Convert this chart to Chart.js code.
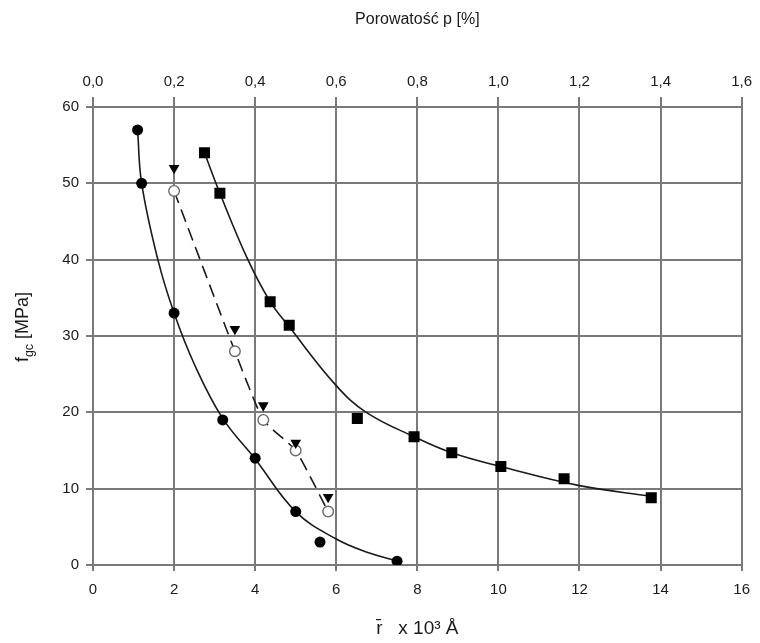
<!DOCTYPE html>
<html>
<head>
<meta charset="utf-8">
<script src="https://cdn.jsdelivr.net/npm/chart.js@4/dist/chart.umd.min.js"></script>
<style>
  html, body { margin: 0; padding: 0; background: #fff; }
  #wrap { width: 760px; height: 643px; }
</style>
</head>
<body>
<div id="wrap"><canvas id="chart"></canvas></div>
<script>
  // Measured points (x = r x 10^3 A, y = f_gc MPa)
  const circleX = [1.1, 1.2, 2.0, 3.2, 4.0, 5.0, 5.6, 7.5];
  const circleY = [57, 50, 33, 19, 14, 7, 3, 0.5];

  const squareX = [2.75, 3.13, 4.37, 4.84, 6.52, 7.92, 8.85, 10.06, 11.62, 13.77];
  const squareY = [54, 48.7, 34.5, 31.4, 19.2, 16.8, 14.7, 12.9, 11.3, 8.8];

  const triangleX = [2.0, 3.5, 4.2, 5.0, 5.8];
  const triangleY = [52, 30.9, 20.9, 16, 8.9];

  const openX = [2.0, 3.5, 4.2, 5.0, 5.8];
  const openY = [49, 28, 19, 15, 7];

  // Fitted curves
  const curveCircleX = [1.1, 1.2, 1.6, 2.0, 2.5, 3.2, 4.0, 5.0, 6.0, 6.8, 7.45];
  const curveCircleY = [57, 50, 40, 33, 26.3, 19.2, 13.9, 7.0, 3.4, 1.6, 0.6];

  const curveSquareX = [2.75, 3.13, 3.82, 4.37, 4.84, 6.0, 6.74, 7.92, 8.85, 10.06, 12.0, 13.77];
  const curveSquareY = [54, 48.7, 40, 34.5, 31.2, 23.5, 20.0, 16.8, 14.7, 12.9, 10.4, 9.0];

  // Axis tick labels
  const bottomTicks = ['0', '2', '4', '6', '8', '10', '12', '14', '16'];
  const topTicks = ['0,0', '0,2', '0,4', '0,6', '0,8', '1,0', '1,2', '1,4', '1,6'];
  const leftTicks = ['0', '10', '20', '30', '40', '50', '60'];

  const pts = (xs, ys) => xs.map((x, i) => ({ x: x, y: ys[i] }));

  const FONT = 'Liberation Sans, Arial, sans-serif';
  const GRID = '#7a7a7a';
  const INK = '#1a1a1a';

  // y title with subscript, drawn on the canvas
  const yTitlePlugin = {
    id: 'yTitle',
    afterDraw(chart) {
      const ctx = chart.ctx;
      ctx.save();
      ctx.translate(22, 327);
      ctx.rotate(-Math.PI / 2);
      ctx.fillStyle = INK;
      ctx.textBaseline = 'alphabetic';
      ctx.textAlign = 'left';
      const big = '18px ' + FONT;
      const small = '12.5px ' + FONT;
      ctx.font = big;
      const wF = ctx.measureText('f').width;
      const wRest = ctx.measureText(' [MPa]').width;
      ctx.font = small;
      const wSub = ctx.measureText('gc').width;
      let x = -(wF + wSub + wRest) / 2;
      const base = 6;
      ctx.font = big;
      ctx.fillText('f', x, base);
      x += wF;
      ctx.font = small;
      ctx.fillText('gc', x, base + 5);
      x += wSub;
      ctx.font = big;
      ctx.fillText(' [MPa]', x, base);
      ctx.restore();
    }
  };

  const lineStyle = {
    showLine: true,
    pointRadius: 0,
    borderColor: INK,
    borderWidth: 1.6,
    tension: 0.4,
    fill: false,
    order: 5
  };

  new Chart(document.getElementById('chart'), {
    type: 'scatter',
    data: {
      datasets: [
        Object.assign({ data: pts(curveCircleX, curveCircleY) }, lineStyle),
        Object.assign({ data: pts(curveSquareX, curveSquareY) }, lineStyle),
        Object.assign({ data: pts(openX, openY) }, lineStyle, { borderDash: [13, 7], tension: 0.15 }),
        {
          data: pts(circleX, circleY),
          pointStyle: 'circle',
          pointRadius: 5.5,
          backgroundColor: '#000',
          borderColor: '#000',
          borderWidth: 0,
          order: 1
        },
        {
          data: pts(squareX, squareY),
          pointStyle: 'rect',
          pointRadius: 7.8,
          backgroundColor: '#000',
          borderColor: '#000',
          borderWidth: 0,
          order: 1
        },
        {
          data: pts(triangleX, triangleY),
          pointStyle: 'triangle',
          pointRotation: 180,
          pointRadius: 6.2,
          backgroundColor: '#000',
          borderColor: '#000',
          borderWidth: 0,
          order: 1
        },
        {
          data: pts(openX, openY),
          pointStyle: 'circle',
          pointRadius: 5.3,
          backgroundColor: '#fff',
          borderColor: '#6a6a6a',
          borderWidth: 1.4,
          order: 1
        }
      ]
    },
    options: {
      responsive: true,
      maintainAspectRatio: false,
      animation: false,
      events: [],
      layout: { padding: { left: 0, right: 11, top: 0, bottom: 0 } },
      plugins: {
        legend: { display: false },
        tooltip: { enabled: false }
      },
      scales: {
        x: {
          type: 'linear',
          position: 'bottom',
          min: 0,
          max: 16,
          afterFit: s => { s.height = 78; },
          ticks: {
            stepSize: 2,
            color: INK,
            padding: 10,
            font: { family: FONT, size: 15 },
            callback: (v, i) => bottomTicks[i]
          },
          grid: { color: GRID, lineWidth: 2, tickLength: 6 },
          border: { color: GRID, width: 2 },
          title: {
            display: true,
            text: 'r\u0304   x 10\u00B3 \u00C5',
            color: INK,
            font: { family: FONT, size: 19 },
            padding: { top: 0, bottom: 3 }
          }
        },
        x2: {
          type: 'linear',
          position: 'top',
          min: 0,
          max: 1.6,
          afterFit: s => { s.height = 107; },
          ticks: {
            stepSize: 0.2,
            color: INK,
            padding: 6,
            font: { family: FONT, size: 15 },
            callback: (v, i) => topTicks[i]
          },
          grid: { color: GRID, lineWidth: 2, tickLength: 10, drawOnChartArea: false },
          border: { color: GRID, width: 2 },
          title: {
            display: true,
            text: 'Porowatość p [%]',
            color: INK,
            font: { family: FONT, size: 16 },
            padding: { top: 10, bottom: 0 }
          }
        },
        y: {
          type: 'linear',
          min: 0,
          max: 60,
          afterFit: s => { s.width = 93; },
          ticks: {
            stepSize: 10,
            color: INK,
            padding: 7,
            font: { family: FONT, size: 15 },
            callback: (v, i) => leftTicks[i]
          },
          grid: { color: GRID, lineWidth: 2, tickLength: 7 },
          border: { color: GRID, width: 2 }
        }
      }
    },
    plugins: [yTitlePlugin]
  });
</script>
</body>
</html>
